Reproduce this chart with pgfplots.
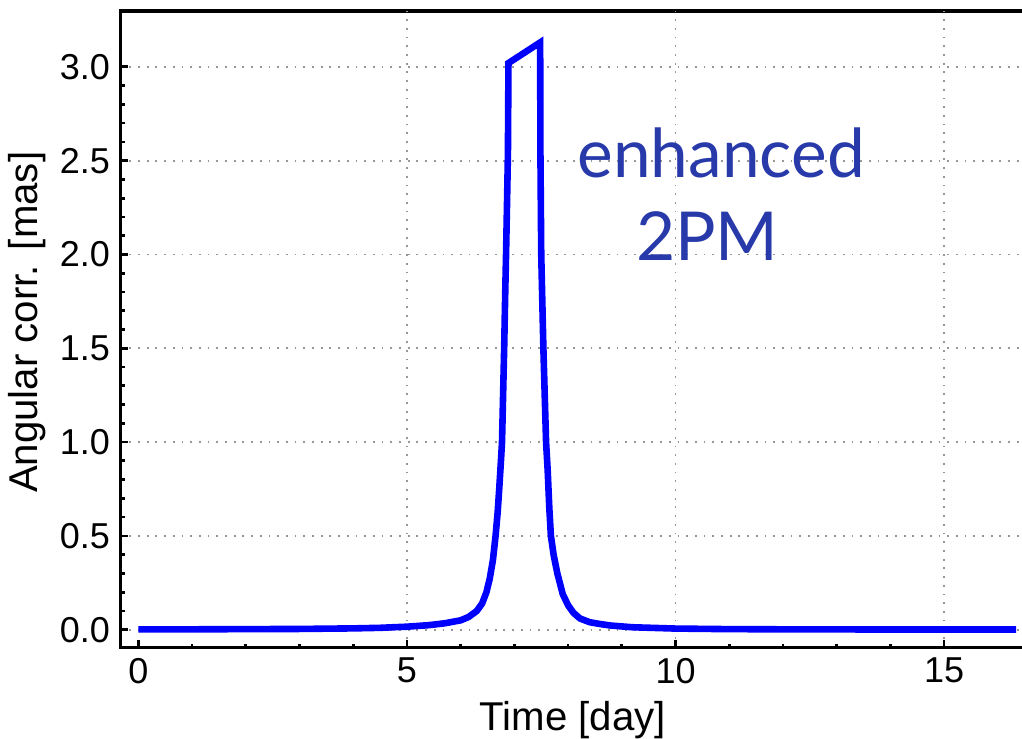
\documentclass[border=0pt]{standalone}
\usepackage{pgfplots}
\pgfplotsset{compat=1.18}
\usepackage{fontspec}
\setmainfont{Liberation Sans}
\newfontfamily\notefont{Lato}
\definecolor{curveblue}{RGB}{0,0,255}
\definecolor{noteblue}{RGB}{40,58,170}
\definecolor{gridgray}{RGB}{150,150,150}

\begin{document}
\begin{tikzpicture}
\begin{axis}[
    name=ax,
    scale only axis,
    width=301.3pt, height=212.1pt,
    xmin=-0.33, xmax=16.5,
    ymin=-0.095, ymax=3.297,
    axis line style={line width=1.1pt},
    tick align=inside,
    xtick pos=left, ytick pos=left,
    xtick={0,5,10,15},
    minor x tick num=4,
    ytick={0,0.5,1,1.5,2,2.5,3},
    minor y tick num=4,
    major tick length=2.4pt,
    minor tick length=1.3pt,
    every tick/.style={black, line width=0.9pt},
    yticklabel style={/pgf/number format/fixed, /pgf/number format/fixed zerofill, /pgf/number format/precision=1},
    /pgf/number format/assume math mode=true,
    ticklabel style={font=\fontsize{12}{14}\selectfont},
    ymajorgrids=true,
    extra x ticks={5,10,15},
    extra x tick labels={},
    extra x tick style={xmajorgrids=true},
    grid style={gridgray, line width=0.6pt, dash pattern=on 0.6pt off 2.3pt},
    xlabel={Time [day]},
    ylabel={Angular corr. [mas]},
    label style={font=\fontsize{13.4}{16}\selectfont},
    xlabel style={at={(axis description cs:0.5,-0.131)}, anchor=base},
    ylabel style={at={(axis description cs:-0.0917,0.511)}, anchor=base},
]
\addplot[curveblue, line width=2.2pt, line join=miter] coordinates {
    (0,0.002) (1,0.002) (2,0.003) (3,0.004) (4,0.007) (4.5,0.010)
    (5,0.016) (5.4,0.024) (5.7,0.034) (6.0,0.050) (6.15,0.068)
    (6.3,0.10) (6.4,0.14) (6.48,0.20) (6.54,0.27) (6.6,0.37)
    (6.65,0.50) (6.69,0.63) (6.72,0.76) (6.75,0.90) (6.77,1.00)
    (6.79,1.25) (6.81,1.50) (6.83,1.80) (6.845,2.00) (6.865,2.30)
    (6.88,2.54) (6.89,3.02)
    (7.48,3.13)
    (7.485,2.54) (7.50,2.00) (7.52,1.75) (7.54,1.50) (7.565,1.25)
    (7.59,1.00) (7.62,0.85) (7.65,0.65) (7.68,0.50) (7.73,0.40)
    (7.8,0.30) (7.9,0.19) (8.0,0.13) (8.1,0.09) (8.22,0.06)
    (8.4,0.04) (8.6,0.03) (8.8,0.022) (9.2,0.013) (10,0.006)
    (11,0.003) (12,0.002) (14,0.001) (16.34,0.001)
};
\node[noteblue, font=\notefont\fontsize{22.5}{26}\selectfont, anchor=base] at (axis cs:10.85,2.41) {enhanced};
\node[noteblue, font=\notefont\fontsize{22.5}{26}\selectfont, anchor=base] at (axis cs:10.59,1.97) {2PM};
\end{axis}
\pgfresetboundingbox
\path[use as bounding box] ([xshift=-40.2pt,yshift=-30.2pt]ax.south west) rectangle ([xshift=-0.9pt,yshift=3.7pt]ax.north east);
\end{tikzpicture}
\end{document}
